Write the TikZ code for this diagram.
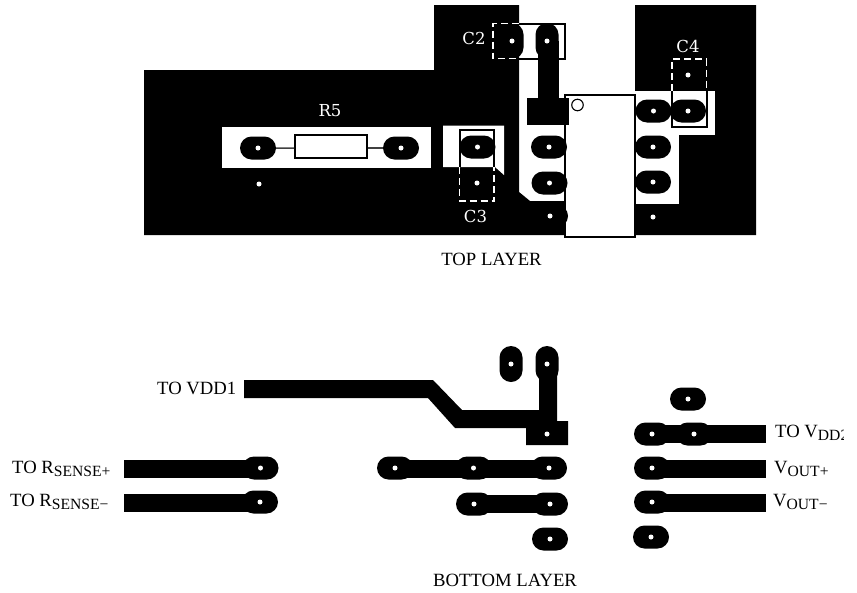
\documentclass[tikz,border=0pt]{standalone}
\usepackage{fontspec}
\setmainfont{Liberation Serif}
\newfontfamily\topfont{DejaVu Serif}
\usetikzlibrary{shapes.misc}
\tikzset{
  padh/.style={rounded rectangle,fill=black,minimum width=36pt,minimum height=23pt,inner sep=0pt,outer sep=0pt},
  padv/.style={padh,rotate=90},
  hole/.style={circle,fill=white,minimum size=5pt,inner sep=0pt},
  trace/.style={fill=black},
  cut/.style={fill=white},
  outl/.style={draw=black,line width=2pt},
  dashw/.style={draw=white,line width=1.4pt,dash pattern=on 7pt off 4pt},
  toplbl/.style={font=\topfont\fontsize{16.5}{16.5}\selectfont,inner sep=0pt,text=white},
  lbl/.style={font=\fontsize{18.7}{18.7}\selectfont,inner sep=0pt,text=black,anchor=base west},
}
\newcommand{\hp}[3]{\node[padh] (#1) at (#2,#3) {}; \node[hole] (#1h) at (#1.center) {};}
\newcommand{\vp}[3]{\node[padv] (#1) at (#2,#3) {}; \node[hole] (#1h) at (#1.center) {};}
\newcommand{\sub}[1]{\raisebox{-3pt}{\fontsize{15.6}{15.6}\selectfont #1}}
\begin{document}
\begin{tikzpicture}[x=1pt,y=-1pt]
\useasboundingbox (0,0) rectangle (857,592);
% copper top layer
\fill[trace] (144,70) -- (434,70) -- (434,5) -- (519,5) -- (519,192) -- (530,201) -- (565,201) -- (565,235) -- (635,235) -- (635,5) -- (756,5) -- (756,235) -- (144,235) -- cycle;
% clearance
\fill[cut] (635,91) rectangle (715,135);
\fill[cut] (635,135) rectangle (679,204);
\fill[cut] (222,127) rectangle (431,168);
\fill[cut] (443,125.5) -- (504,125.5) -- (504,175) -- (495,167) -- (443,167) -- cycle;
% IC
\node[outl,fill=white,minimum width=70pt,minimum height=142pt,inner sep=0pt,outer sep=0pt,anchor=north west] (ic) at (564.5,94.5) {};
\node[draw=black,line width=1.1pt,circle,minimum size=11.5pt,inner sep=0pt] (pin) at (577.5,105) {};
% top traces and pads
\node[fill=black,minimum width=42pt,minimum height=27pt,inner sep=0pt,anchor=north west] (pwr) at (527,98) {};
\fill[trace] (538,41) rectangle (559,100);
\draw[outl,fill=none] (519,23.5) -- (565,23.5) -- (565,58.5) -- (519,58.5);
\vp{c2a}{512}{41}
\vp{c2b}{547}{41}
\draw[dashw] (519,23.5) -- (493,23.5) -- (493,58.5) -- (519,58.5);
% R5
\node[outl,fill=white,minimum width=72pt,minimum height=23pt,inner sep=0pt] (r5) at (331,146.5) {};
\hp{ra}{258}{148}
\hp{rb}{401}{148}
\draw[line width=1.5pt,black!75] (ra) -- (ra -| r5.west);
\draw[line width=1.5pt,black!75] (r5.east |- rb) -- (rb);
\node[hole] (ho1) at (259,184) {};
% C3
\draw[outl] (459.5,167) -- (459.5,129.5) -- (494,129.5) -- (494,167);
\hp{c3a}{477.5}{147}
\node[hole] (c3b) at (477,183) {};
\draw[dashw] (459.5,167) -- (459.5,201) -- (494,201) -- (494,167);
% C4
\draw[outl] (672,91) -- (672,126.5) -- (706.5,126.5) -- (706.5,91);
\hp{c4a}{653.5}{111}
\hp{c4b}{688}{111}
\node[hole] (c4c) at (688,75) {};
\draw[dashw] (672,91) -- (672,59) -- (706.5,59) -- (706.5,91);
% IC pads
\hp{l2}{549}{147}
\hp{l3}{549.5}{183}
\hp{l4}{550}{216}
\hp{r2}{653}{147}
\hp{r3}{653}{182}
\hp{r4}{653}{217}
% top labels
\node[toplbl] (lc2) at (474,38) {C2};
\node[toplbl] (lc4) at (688,46) {C4};
\node[toplbl] (lc3) at (475.5,216) {C3};
\node[toplbl] (lr5) at (330,111) {R5};
\node[lbl,anchor=base] (ltop) at (491.5,265) {TOP LAYER};
% bottom layer
\fill[trace] (244,380) -- (433,380) -- (462,410) -- (539,410) -- (539,364) -- (557,364) -- (557,421) -- (568,421) -- (568,445) -- (526,445) -- (526,428) -- (455,428) -- (428,398) -- (244,398) -- cycle;
\vp{ba}{511}{364}
\vp{bb}{547}{364}
\node[hole] (bc) at (547,434) {};
\hp{bd}{688}{399}
\fill[trace] (652,425) rectangle (766,443);
\hp{be}{652}{434}
\hp{bf}{694}{434}
\fill[trace] (124,460) rectangle (260,478);
\hp{bg}{260.5}{468}
\fill[trace] (395,460) rectangle (549,478);
\hp{bh}{395}{468}
\hp{bi}{473.5}{468}
\hp{bj}{549}{468}
\fill[trace] (652,460) rectangle (766,478);
\hp{bk}{652}{468}
\fill[trace] (124,494) rectangle (260,512);
\hp{bl}{260}{502}
\fill[trace] (474,495) rectangle (550,513);
\hp{bm}{474}{504}
\hp{bn}{550}{504}
\fill[trace] (652,494) rectangle (766,512);
\hp{bo}{652}{502}
\hp{bp}{550}{539}
\hp{bq}{651}{537}
% bottom labels
\node[lbl] (tv1) at (157,394) {TO VDD1};
\node[lbl] (trp) at (12,473) {TO R\sub{SENSE+}};
\node[lbl] (trm) at (10,506) {TO R\sub{SENSE−}};
\node[lbl] (tv2) at (775,437) {TO V\sub{DD2}};
\fill[white] (844,420) rectangle (857,450);
\node[lbl] (vop) at (774,473) {V\sub{OUT+}};
\node[lbl] (vom) at (773,506) {V\sub{OUT−}};
\node[lbl,anchor=base] (lbot) at (505,586) {BOTTOM LAYER};
\end{tikzpicture}
\end{document}
